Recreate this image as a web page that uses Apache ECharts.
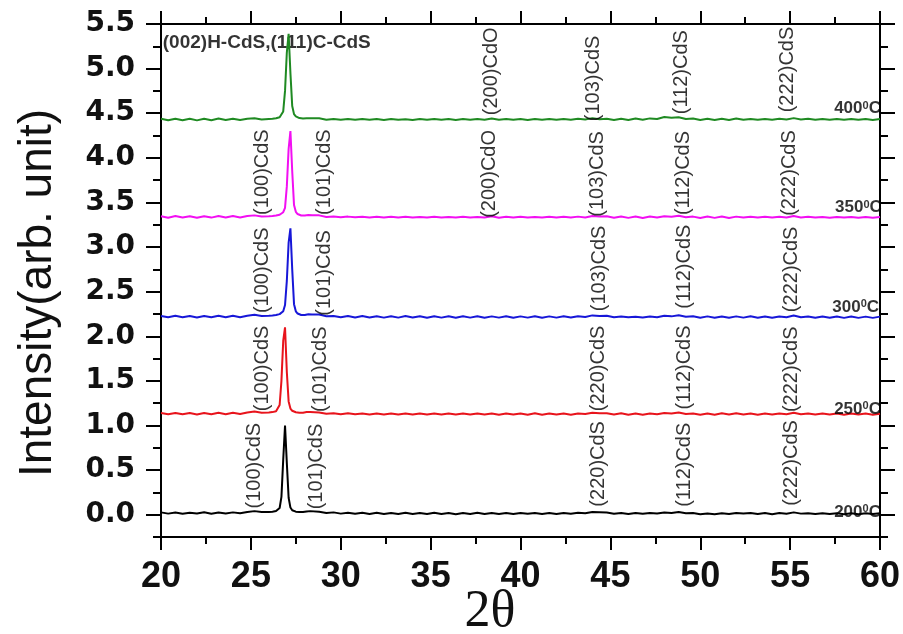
<!DOCTYPE html>
<html>
<head>
<meta charset="utf-8">
<script src="https://cdn.jsdelivr.net/npm/echarts@6/dist/echarts.min.js"></script>
<style>
  html, body { margin: 0; padding: 0; background: #ffffff; }
  #chart { width: 903px; height: 634px; }
</style>
</head>
<body>
<div id="chart"></div>
<script>
// 2-theta sampling positions (degrees)
const twoTheta = [
  20, 20.4, 20.8, 21.2, 21.6, 22, 22.4, 22.8, 23.2, 23.6, 24, 24.4, 24.8, 25.2, 25.6,
  26, 26.1, 26.2, 26.3, 26.4, 26.5, 26.6, 26.7, 26.8, 26.9, 27, 27.1, 27.2, 27.3, 27.4,
  27.5, 27.6, 27.7, 27.8, 27.9, 28, 28.1, 28.2, 28.3, 28.4,
  28.8, 29.2, 29.6, 30, 30.4, 30.8, 31.2, 31.6, 32, 32.4,
  32.8, 33.2, 33.6, 34, 34.4, 34.8, 35.2, 35.6, 36, 36.4,
  36.8, 37.2, 37.6, 38, 38.4, 38.8, 39.2, 39.6, 40, 40.4,
  40.8, 41.2, 41.6, 42, 42.4, 42.8, 43.2, 43.6, 44, 44.4,
  44.8, 45.2, 45.6, 46, 46.4, 46.8, 47.2, 47.6, 48, 48.4,
  48.8, 49.2, 49.6, 50, 50.4, 50.8, 51.2, 51.6, 52, 52.4,
  52.8, 53.2, 53.6, 54, 54.4, 54.8, 55.2, 55.6, 56, 56.4,
  56.8, 57.2, 57.6, 58, 58.4, 58.8, 59.2, 59.6, 60
];

// Stacked XRD patterns, one per annealing temperature
const int200 = [
  0.026, 0.012, 0.024, 0.01, 0.022, 0.013, 0.027, 0.011, 0.025, 0.014, 0.026, 0.015, 0.03, 0.04, 0.03,
  0.03, 0.032, 0.034, 0.037, 0.041, 0.05, 0.075, 0.2, 0.62, 1.0, 0.58, 0.19, 0.08, 0.05, 0.04,
  0.034, 0.03, 0.029, 0.028, 0.03, 0.032, 0.036, 0.039, 0.04, 0.036,
  0.032, 0.02, 0.026, 0.012, 0.023, 0.01, 0.022, 0.009, 0.021, 0.008,
  0.02, 0.009, 0.022, 0.008, 0.019, 0.007, 0.021, 0.009, 0.019, 0.006,
  0.02, 0.008, 0.021, 0.007, 0.02, 0.009, 0.018, 0.008, 0.019, 0.01,
  0.018, 0.008, 0.019, 0.009, 0.02, 0.01, 0.021, 0.016, 0.03, 0.028,
  0.024, 0.011, 0.02, 0.009, 0.019, 0.01, 0.02, 0.014, 0.025, 0.02,
  0.029, 0.017, 0.019, 0.006, 0.014, 0.005, 0.016, 0.007, 0.02, 0.013,
  0.02, 0.007, 0.018, 0.006, 0.018, 0.011, 0.026, 0.012, 0.017, 0.008,
  0.017, 0.007, 0.016, 0.006, 0.015, 0.006, 0.016, 0.007, 0.015
];
const int250 = [
  1.14, 1.126, 1.141, 1.125, 1.139, 1.124, 1.14, 1.126, 1.142, 1.127, 1.143, 1.128, 1.145, 1.156, 1.143,
  1.145, 1.147, 1.15, 1.155, 1.16, 1.175, 1.23, 1.5, 1.95, 2.1, 1.6, 1.27, 1.19, 1.165, 1.155,
  1.148, 1.143, 1.142, 1.141, 1.143, 1.146, 1.15, 1.153, 1.152, 1.148,
  1.146, 1.131, 1.137, 1.126, 1.136, 1.125, 1.134, 1.124, 1.134, 1.124,
  1.135, 1.123, 1.134, 1.122, 1.135, 1.123, 1.134, 1.124, 1.135, 1.122,
  1.134, 1.122, 1.133, 1.124, 1.135, 1.121, 1.134, 1.122, 1.135, 1.121,
  1.136, 1.121, 1.135, 1.122, 1.134, 1.121, 1.135, 1.128, 1.143, 1.136,
  1.138, 1.123, 1.136, 1.121, 1.135, 1.12, 1.134, 1.125, 1.139, 1.133,
  1.145, 1.128, 1.135, 1.12, 1.135, 1.121, 1.136, 1.122, 1.137, 1.124,
  1.134, 1.121, 1.133, 1.122, 1.134, 1.125, 1.143, 1.126, 1.134, 1.122,
  1.133, 1.122, 1.134, 1.121, 1.133, 1.122, 1.134, 1.121, 1.132
];
const int300 = [
  2.228, 2.212, 2.229, 2.213, 2.227, 2.211, 2.228, 2.212, 2.23, 2.213, 2.229, 2.214, 2.231, 2.241, 2.228,
  2.23, 2.231, 2.233, 2.235, 2.238, 2.242, 2.248, 2.258, 2.28, 2.35, 2.62, 3.05, 3.21, 2.75, 2.36,
  2.28, 2.255, 2.245, 2.238, 2.236, 2.238, 2.242, 2.246, 2.248, 2.244,
  2.243, 2.224, 2.228, 2.212, 2.227, 2.211, 2.226, 2.21, 2.225, 2.209,
  2.225, 2.209, 2.226, 2.21, 2.224, 2.208, 2.224, 2.209, 2.225, 2.208,
  2.224, 2.209, 2.225, 2.208, 2.223, 2.209, 2.225, 2.208, 2.223, 2.209,
  2.224, 2.208, 2.223, 2.209, 2.224, 2.21, 2.225, 2.217, 2.234, 2.227,
  2.23, 2.212, 2.221, 2.212, 2.22, 2.211, 2.221, 2.213, 2.23, 2.223,
  2.236, 2.219, 2.224, 2.208, 2.223, 2.207, 2.222, 2.208, 2.223, 2.209,
  2.224, 2.208, 2.222, 2.207, 2.222, 2.214, 2.233, 2.214, 2.221, 2.207,
  2.222, 2.207, 2.221, 2.206, 2.221, 2.206, 2.22, 2.206, 2.22
];
const int350 = [
  3.346, 3.329, 3.347, 3.33, 3.345, 3.328, 3.346, 3.33, 3.348, 3.331, 3.347, 3.332, 3.348, 3.355, 3.342,
  3.345, 3.346, 3.348, 3.35, 3.353, 3.357, 3.362, 3.372, 3.39, 3.44, 3.68, 4.1, 4.3, 3.85, 3.47,
  3.395, 3.37, 3.36, 3.354, 3.352, 3.354, 3.357, 3.36, 3.361, 3.357,
  3.355, 3.337, 3.343, 3.334, 3.341, 3.333, 3.34, 3.332, 3.339, 3.331,
  3.34, 3.332, 3.339, 3.331, 3.338, 3.33, 3.339, 3.331, 3.338, 3.33,
  3.339, 3.331, 3.338, 3.33, 3.345, 3.329, 3.339, 3.331, 3.339, 3.33,
  3.338, 3.33, 3.339, 3.331, 3.339, 3.33, 3.341, 3.332, 3.348, 3.341,
  3.344, 3.328, 3.343, 3.327, 3.342, 3.326, 3.342, 3.332, 3.346, 3.339,
  3.351, 3.334, 3.341, 3.326, 3.342, 3.327, 3.342, 3.326, 3.341, 3.331,
  3.34, 3.331, 3.339, 3.33, 3.339, 3.331, 3.348, 3.331, 3.339, 3.33,
  3.338, 3.329, 3.338, 3.33, 3.338, 3.329, 3.337, 3.328, 3.338
];
const int400 = [
  4.438, 4.421, 4.439, 4.422, 4.437, 4.42, 4.438, 4.422, 4.44, 4.423, 4.439, 4.424, 4.439, 4.443, 4.43,
  4.436, 4.437, 4.439, 4.441, 4.444, 4.448, 4.455, 4.47, 4.52, 4.75, 5.18, 5.39, 4.95, 4.58, 4.49,
  4.465, 4.452, 4.446, 4.442, 4.44, 4.441, 4.443, 4.445, 4.444, 4.441,
  4.443, 4.427, 4.435, 4.426, 4.434, 4.426, 4.435, 4.427, 4.434, 4.425,
  4.434, 4.426, 4.433, 4.425, 4.434, 4.426, 4.435, 4.427, 4.434, 4.425,
  4.434, 4.426, 4.435, 4.427, 4.442, 4.428, 4.435, 4.426, 4.434, 4.425,
  4.434, 4.426, 4.435, 4.426, 4.436, 4.427, 4.438, 4.43, 4.445, 4.432,
  4.439, 4.424, 4.439, 4.424, 4.44, 4.426, 4.442, 4.436, 4.457, 4.45,
  4.455, 4.435, 4.44, 4.424, 4.439, 4.424, 4.439, 4.425, 4.44, 4.426,
  4.436, 4.427, 4.436, 4.427, 4.437, 4.429, 4.445, 4.429, 4.437, 4.427,
  4.436, 4.427, 4.436, 4.426, 4.435, 4.426, 4.435, 4.425, 4.436
];

const temperatures = ['200', '250', '300', '350', '400'];
const traceColors = ['#000000', '#e8141c', '#1717d8', '#f20ff2', '#1f8a22'];

// Axis tick values
const xTicks = [20, 25, 30, 35, 40, 45, 50, 55, 60];
const yMajor = [0, 0.5, 1, 1.5, 2, 2.5, 3, 3.5, 4, 4.5, 5, 5.5];
const yMinor = [-0.25, 0.25, 0.75, 1.25, 1.75, 2.25, 2.75, 3.25, 3.75, 4.25, 4.75, 5.25];

// Reflection labels: [2θ, intensity at label centre, text]
const peakLabels = [
  [25.2, 0.55, '(100)CdS'], [28.65, 0.54, '(101)CdS'], [44.35, 0.57, '(220)CdS'], [49.1, 0.56, '(112)CdS'], [55.05, 0.58, '(222)CdS'],
  [25.65, 1.64, '(100)CdS'], [28.9, 1.63, '(101)CdS'], [44.35, 1.64, '(220)CdS'], [49.1, 1.65, '(112)CdS'], [55.05, 1.63, '(222)CdS'],
  [25.65, 2.74, '(100)CdS'], [29.1, 2.71, '(101)CdS'], [44.4, 2.76, '(103)CdS'], [49.1, 2.78, '(112)CdS'], [55.05, 2.75, '(222)CdS'],
  [25.65, 3.84, '(100)CdS'], [29.1, 3.84, '(101)CdS'], [38.3, 3.82, '(200)CdO'], [44.3, 3.82, '(103)CdS'], [49.05, 3.83, '(112)CdS'], [54.95, 3.83, '(222)CdS'],
  [38.4, 4.97, '(200)CdO'], [44.05, 4.89, '(103)CdS'], [48.98, 4.96, '(112)CdS'], [54.85, 4.99, '(222)CdS']
];
const mainPeakNote = [20.1, 5.29, '(002)H-CdS,(111)C-CdS'];
// Temperature tags beside each trace: [2θ, intensity, text]
const tempLabels = [
  [57.45, 0.03, '200'], [57.45, 1.18, '250'], [57.35, 2.33, '300'], [57.5, 3.44, '350'], [57.45, 4.55, '400']
];

const traces = [int200, int250, int300, int350, int400];

const lineSeries = traces.map((vals, i) => ({
  type: 'line',
  name: temperatures[i] + '°C',
  data: twoTheta.map((t, k) => [t, vals[k]]),
  showSymbol: false,
  symbol: 'none',
  lineStyle: { color: traceColors[i], width: 2 },
  z: 3,
  silent: true
}));

const peakLabelSeries = {
  type: 'scatter',
  symbolSize: 0,
  silent: true,
  z: 5,
  data: peakLabels.map(p => ({ value: [p[0], p[1]], name: p[2] })),
  label: {
    show: true,
    position: 'inside',
    rotate: 90,
    align: 'center',
    verticalAlign: 'middle',
    formatter: p => p.name,
    fontFamily: 'Liberation Sans, Arial, sans-serif',
    fontSize: 20,
    color: '#000000',
    textBorderWidth: 0
  }
};

const noteSeries = {
  type: 'scatter',
  symbolSize: 0,
  silent: true,
  z: 2,
  data: [{ value: [mainPeakNote[0], mainPeakNote[1]], name: mainPeakNote[2] }],
  label: {
    show: true,
    position: 'inside',
    align: 'left',
    verticalAlign: 'middle',
    formatter: p => p.name,
    fontFamily: 'Liberation Sans, Arial, sans-serif',
    fontWeight: 'bold',
    fontSize: 19,
    color: '#000000',
    textBorderWidth: 0
  }
};

const tempSeries = {
  type: 'scatter',
  symbolSize: 0,
  silent: true,
  z: 6,
  data: tempLabels.map(p => ({ value: [p[0], p[1]], name: p[2] })),
  label: {
    show: true,
    position: 'inside',
    align: 'left',
    verticalAlign: 'middle',
    textBorderWidth: 0,
    formatter: p => '{n|' + p.name + '}{s|0}{n|C}',
    rich: {
      n: { fontFamily: 'Liberation Sans, Arial, sans-serif', fontWeight: 'bold', fontSize: 17, color: '#000000', textBorderWidth: 0 },
      s: { fontFamily: 'Liberation Sans, Arial, sans-serif', fontWeight: 'bold', fontSize: 11, color: '#000000', verticalAlign: 'top', textBorderWidth: 0 }
    }
  }
};

const frameLine = { show: true, onZero: false, lineStyle: { color: '#000000', width: 2 } };

function yAxisDef(position, values, length, labels) {
  return {
    type: 'value',
    position: position,
    min: -0.25,
    max: 5.5,
    axisLine: frameLine,
    splitLine: { show: false },
    axisTick: { show: true, inside: false, length: length, customValues: values, lineStyle: { color: '#000000', width: 2 } },
    axisLabel: labels ? {
      show: true,
      customValues: values,
      margin: 26,
      formatter: v => v.toFixed(1),
      fontFamily: 'DejaVu Sans, sans-serif',
      fontWeight: 'bold',
      fontSize: 28,
      color: '#111111'
    } : { show: false }
  };
}

function xAxisDef(position, labels) {
  return {
    type: 'value',
    position: position,
    min: xTicks[0],
    max: xTicks[xTicks.length - 1],
    interval: 5,
    axisLine: frameLine,
    splitLine: { show: false },
    axisTick: { show: true, inside: false, length: 13, lineStyle: { color: '#000000', width: 2 } },
    minorTick: { show: true, splitNumber: 2, length: 7, lineStyle: { color: '#000000', width: 2 } },
    minorSplitLine: { show: false },
    axisLabel: labels ? {
      show: true,
      margin: 22,
      formatter: v => String(v),
      fontFamily: 'Liberation Sans, Arial, sans-serif',
      fontWeight: 'bold',
      fontSize: 36,
      color: '#111111'
    } : { show: false }
  };
}

const chart = echarts.init(document.getElementById('chart'), null, { renderer: 'canvas' });
chart.setOption({
  animation: false,
  backgroundColor: '#ffffff',
  grid: { left: 161, right: 23, top: 24, bottom: 97, containLabel: false, outerBoundsMode: 'none' },
  xAxis: [xAxisDef('bottom', true), xAxisDef('top', false)],
  yAxis: [
    yAxisDef('left', yMajor, 15, true),
    yAxisDef('left', yMinor, 8, false),
    yAxisDef('right', yMajor, 15, false),
    yAxisDef('right', yMinor, 8, false)
  ],
  graphic: [
    {
      type: 'text',
      x: 38,
      y: 293,
      rotation: Math.PI / 2,
      style: {
        text: 'Intensity(arb. unit)',
        fontFamily: 'Liberation Sans, Arial, sans-serif',
        fontSize: 46,
        fill: '#111111',
        align: 'center',
        verticalAlign: 'middle'
      }
    },
    {
      type: 'text',
      x: 490,
      y: 612,
      style: {
        text: '2θ',
        fontFamily: 'Liberation Serif, Times New Roman, serif',
        fontSize: 52,
        fill: '#111111',
        align: 'center',
        verticalAlign: 'middle'
      }
    }
  ],
  series: [...lineSeries, peakLabelSeries, noteSeries, tempSeries]
});
</script>
</body>
</html>
